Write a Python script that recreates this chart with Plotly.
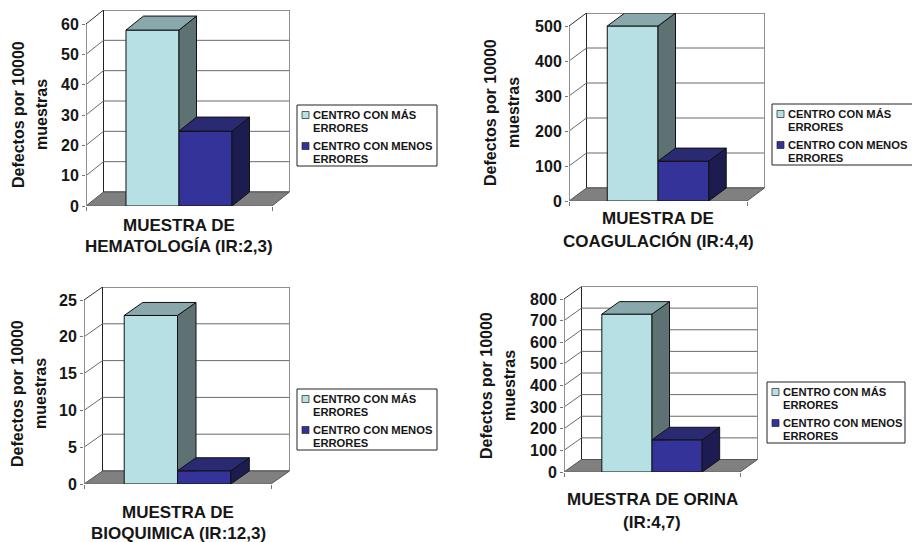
import plotly.graph_objects as go

# ---- data ----
X_TITLES = [
    ["MUESTRA DE", "HEMATOLOGÍA (IR:2,3)"],
    ["MUESTRA DE", "COAGULACIÓN (IR:4,4)"],
    ["MUESTRA DE", "BIOQUIMICA (IR:12,3)"],
    ["MUESTRA DE ORINA", "(IR:4,7)"],
]
Y_TITLE = ["Defectos por 10000", "muestras"]
SERIES_MAS = ["CENTRO CON MÁS", "ERRORES"]
SERIES_MENOS = ["CENTRO CON MENOS", "ERRORES"]
MAS_ERRORES = [58, 500, 22.9, 730]
MENOS_ERRORES = [24.7, 114, 1.8, 149]
TICKS_1 = [0, 10, 20, 30, 40, 50, 60]
TICKS_2 = [0, 100, 200, 300, 400, 500]
TICKS_3 = [0, 5, 10, 15, 20, 25]
TICKS_4 = [0, 100, 200, 300, 400, 500, 600, 700, 800]
TICKS = [TICKS_1, TICKS_2, TICKS_3, TICKS_4]

# ---- layout (pixels in the 912x542 page) ----
W, H = 912, 542
# left, right, y of zero, y of top tick, depth x, depth y
PANELS = [
    dict(l=86, r=272, y0=206, yt=24, dx=17.5, dy=14),
    dict(l=569, r=747, y0=201, yt=26, dx=17.5, dy=13),
    dict(l=84, r=271, y0=484, yt=300, dx=18.5, dy=13),
    dict(l=564, r=740, y0=472, yt=299, dx=17.5, dy=12.5),
]
X_TITLE_POS = [(179, 225, 247), (658, 219, 242), (178, 512, 533), (652, 499, 522)]
Y_TITLE_POS = [(18, 41, 115), (491, 514, 113), (17, 40, 394), (486, 509, 386)]
LEGEND_BOX = [(297, 105, 437, 166), (772, 104, 913, 165), (297, 389, 437, 450), (767, 382, 905, 443)]
BAR_W = 0.285
BAR_CENTERS = (0.5 - BAR_W / 2, 0.5 + BAR_W / 2)

C1 = dict(front="#B7E0E5", top="#88A8AB", side="#5E7274")
C2 = dict(front="#333399", top="#2A2A72", side="#1C1C50")
FONT = "Liberation Sans"
TXT = "#161616"


def px(x):
    return x / W


def py(y):
    return 1 - y / H


def poly(xs, ys):
    return "M" + "L".join(f"{a},{b}" for a, b in zip(xs, ys)) + "Z"


fig = go.Figure()
layout = {}
shapes = []
annotations = []


def text(x, y, s, size, bold=True, angle=0, anchor="center"):
    annotations.append(dict(
        x=px(x), y=py(y), xref="paper", yref="paper", text=s, showarrow=False,
        xanchor=anchor, yanchor="middle", textangle=angle,
        font=dict(family=FONT, size=size, color=TXT, weight=700 if bold else 400),
    ))


for i, p in enumerate(PANELS):
    n = i + 1
    xn, yn = f"x{n}" if n > 1 else "x", f"y{n}" if n > 1 else "y"
    ticks = TICKS[i]
    ymax = ticks[-1]
    fw = p["r"] - p["l"]
    fh = p["y0"] - p["yt"]
    dx = p["dx"] / fw
    dy = p["dy"] / fh * ymax
    layout[f"xaxis{n}"] = dict(
        domain=[px(p["l"]), px(p["r"] + p["dx"])], range=[0, 1 + dx], anchor=yn,
        showgrid=False, zeroline=False, showline=False, showticklabels=False,
        tickvals=[0, 1], ticks="outside", ticklen=4, tickcolor="#777", tickwidth=1,
    )
    layout[f"yaxis{n}"] = dict(
        domain=[py(p["y0"]), py(p["yt"] - p["dy"])], range=[0, ymax + dy], anchor=xn,
        showgrid=False, zeroline=False, showline=False,
        tickvals=ticks, ticks="outside", ticklen=3, tickcolor="#777", tickwidth=1,
        tickfont=dict(family=FONT, size=16, color=TXT, weight=700),
    )

    def add_shape(path, **kw):
        shapes.append(dict(type="path", path=path, xref=xn, yref=yn, layer="below", **kw))

    # back wall
    add_shape(poly([dx, 1 + dx, 1 + dx, dx], [dy, dy, ymax + dy, ymax + dy]),
              fillcolor="white", line=dict(color="#222", width=1))
    # gridlines on walls
    for t in ticks[1:-1]:
        add_shape(f"M0,{t}L{dx},{t + dy}L{1 + dx},{t + dy}", line=dict(color="#6a6a6a", width=1))
    add_shape(f"M0,{ymax}L{dx},{ymax + dy}", line=dict(color="#333", width=1))
    # floor
    add_shape(poly([0, 1, 1 + dx, dx], [0, 0, dy, dy]), fillcolor="#808080", line=dict(color="#555", width=1))
    # axis lines
    add_shape(f"M0,0L0,{ymax}", line=dict(color="#8f8f8f", width=2))
    add_shape("M0,0L1,0", line=dict(color="#777", width=1.5))

    v1, v2 = MAS_ERRORES[i], MENOS_ERRORES[i]
    c1, c2 = BAR_CENTERS
    h = BAR_W / 2
    for c, v, col, names in ((c1, v1, C1, SERIES_MAS), (c2, v2, C2, SERIES_MENOS)):
        fig.add_trace(go.Bar(x=[c], y=[v], width=BAR_W, marker=dict(color=col["front"], line=dict(color="#111", width=1)),
                             name=" ".join(names), showlegend=False, xaxis=xn, yaxis=yn, cliponaxis=False))

    def face(xs, ys, color):
        fig.add_trace(go.Scatter(x=xs + xs[:1], y=ys + ys[:1], mode="lines", fill="toself", fillcolor=color,
                                 line=dict(color="#111", width=1), showlegend=False, hoverinfo="skip",
                                 xaxis=xn, yaxis=yn, cliponaxis=False))

    # taller bar first; its side stops where the shorter bar's front starts
    face([c1 + h, c1 + h + dx, c1 + h + dx, c1 + h], [v2, v2, v1 + dy, v1], C1["side"])
    face([c1 - h, c1 + h, c1 + h + dx, c1 - h + dx], [v1, v1, v1 + dy, v1 + dy], C1["top"])
    face([c2 + h, c2 + h + dx, c2 + h + dx, c2 + h], [0, dy, v2 + dy, v2], C2["side"])
    face([c2 - h, c2 + h, c2 + h + dx, c2 - h + dx], [v2, v2, v2 + dy, v2 + dy], C2["top"])

    # axis titles
    xc, y1, y2 = X_TITLE_POS[i]
    text(xc, y1, X_TITLES[i][0], 17)
    text(xc, y2, X_TITLES[i][1], 17)
    x1, x2, yc = Y_TITLE_POS[i]
    text(x1, yc, Y_TITLE[0], 16, angle=-90)
    text(x2, yc, Y_TITLE[1], 16, angle=-90)

    # legend
    bx0, by0, bx1, by1 = LEGEND_BOX[i]
    shapes.append(dict(type="rect", xref="paper", yref="paper", x0=px(bx0), x1=px(bx1), y0=py(by0), y1=py(by1),
                       fillcolor="white", line=dict(color="#222", width=1)))
    for (names, col, off) in ((SERIES_MAS, C1, 10), (SERIES_MENOS, C2, 41)):
        shapes.append(dict(type="rect", xref="paper", yref="paper",
                           x0=px(bx0 + 5), x1=px(bx0 + 12), y0=py(by0 + off - 3.5), y1=py(by0 + off + 3.5),
                           fillcolor=col["front"], line=dict(color="#222", width=0.7)))
        text(bx0 + 14, by0 + off, names[0], 11.2, anchor="left")
        text(bx0 + 14, by0 + off + 13, names[1], 11.2, anchor="left")

fig.update_layout(
    width=W, height=H, margin=dict(l=0, r=0, t=0, b=0, autoexpand=False), paper_bgcolor="white",
    plot_bgcolor="rgba(0,0,0,0)",
    showlegend=False, shapes=shapes, annotations=annotations, barmode="overlay", **layout,
)
fig.write_html("out.html", config=dict(displayModeBar=False), post_script="document.body.style.margin='0';")
